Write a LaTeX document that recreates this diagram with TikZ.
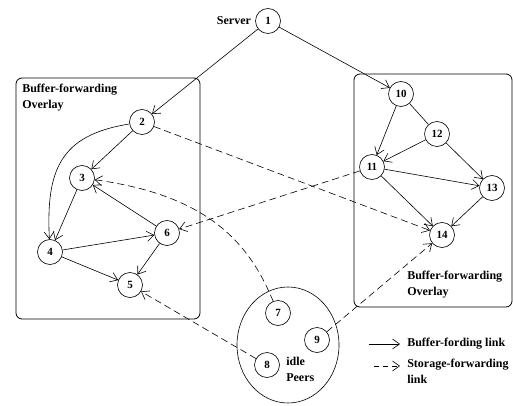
\documentclass[tikz,border=0pt]{standalone}
\usepackage{fontspec}
\setmainfont{Liberation Serif}
\usetikzlibrary{arrows.meta}
\usetikzlibrary{positioning}
\tikzset{peer/.style = {circle, draw, inner sep=0pt, minimum size=25pt,
                        font=\bfseries\fontsize{11}{13}\selectfont},
         lbl/.style = {align=left, inner sep=0pt,
                       font=\bfseries\fontsize{12}{15.5}\selectfont},
         ovbox/.style = {draw, rounded corners=6pt, line width=0.8pt},
         buf/.style = {->},
         store/.style = {->, dash pattern=on 7pt off 4pt},
         >={Straight Barb[length=7pt, width=10pt]}}

\begin{document}
\begin{tikzpicture}[x=1pt, y=-1pt, line width=0.6pt]
    \useasboundingbox (0, 0) rectangle (513, 406);
    % overlays and idle peers
    \draw [ovbox] (16, 78) rectangle (200, 319);
    \draw [ovbox] (354, 74) rectangle (512, 307);
    \draw (288, 345) ellipse [x radius=51, y radius=58];
    \node (ovl) [lbl, anchor=north west] at (22, 84) {Buffer-forwarding\\Overlay};
    \node (ovr) [lbl, anchor=north west] at (407, 271) {Buffer-forwarding\\Overlay};
    \node (idle) [lbl, anchor=north west] at (286, 357) {idle\\Peers};
    % peers
    \node (n1) [peer] at (268, 21) {1};
    \node (n2) [peer] at (142, 122) {2};
    \node (n3) [peer] at (82, 178) {3};
    \node (n4) [peer] at (50, 252) {4};
    \node (n5) [peer] at (130, 285) {5};
    \node (n6) [peer] at (167, 233) {6};
    \node (n7) [peer] at (278, 313) {7};
    \node (n8) [peer] at (267, 365) {8};
    \node (n9) [peer] at (317, 340) {9};
    \node (n10) [peer] at (401, 94) {10};
    \node (n11) [peer] at (372, 167) {11};
    \node (n12) [peer] at (437, 134) {12};
    \node (n13) [peer] at (492, 188) {13};
    \node (n14) [peer] at (442, 235) {14};
    \node (srv) [lbl, left=4pt of n1] {Server};
    % buffer-forwarding links
    \draw [buf] (n1) -- (n2);
    \draw [buf] (n1) -- (n10);
    \draw [buf] (n2) -- (n3);
    \draw [buf] (n2) .. controls (60, 135) and (46, 170) .. (n4);
    \draw [buf] (n3) -- (n4);
    \draw [buf] (n6) -- (n3);
    \draw [buf] (n4) -- (n6);
    \draw [buf] (n4) -- (n5);
    \draw [buf] (n6) -- (n5);
    \draw (n10) -- (n12);
    \draw [buf] (n10) -- (n11);
    \draw [buf] (n12) -- (n11);
    \draw [buf] (n12) -- (n13);
    \draw [buf] (n11) -- (n13);
    \draw [buf] (n11) -- (n14);
    \draw [buf] (n13) -- (n14);
    % storage-forwarding links
    \draw [store] (n2) -- (n14);
    \draw [store] (n11) -- (n6);
    \draw [store] (n7) .. controls (248, 240) and (205, 195) .. (n3);
    \draw [store] (n8) -- (n5);
    \draw [store] (n9) -- (n14);
    % legend
    \coordinate (la) at (369, 344);
    \coordinate (lb) at (400, 344);
    \coordinate (lc) at (374, 366);
    \coordinate (ld) at (400, 366);
    \draw [buf] (la) -- (lb);
    \draw [store, dash pattern=on 5pt off 4pt] (lc) -- (ld);
    \node (lbuf) [lbl, anchor=west] at (407, 344) {Buffer-fording link};
    \node (lsto) [lbl, anchor=north west] at (407, 359) {Storage-forwarding\\link};
\end{tikzpicture}
\end{document}
